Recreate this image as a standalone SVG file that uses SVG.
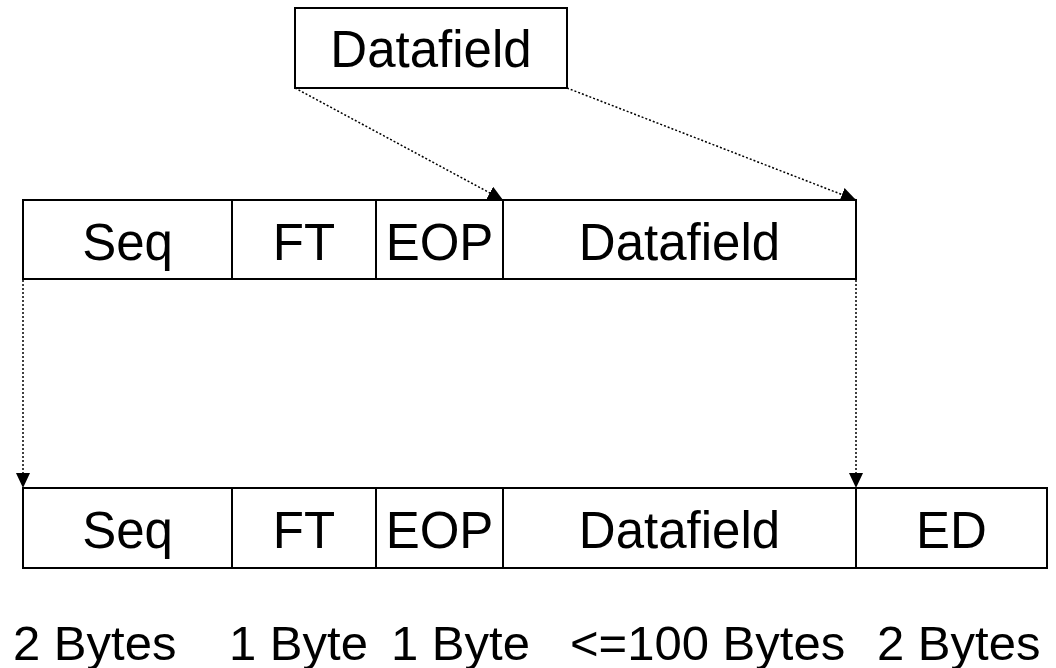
<svg xmlns="http://www.w3.org/2000/svg" width="1056" height="668" viewBox="0 0 1056 668">
<style>
.box{fill:#fff;stroke:#000;stroke-width:2}
.div{stroke:#000;stroke-width:2}
.t{font-family:"Liberation Sans",Arial,sans-serif;font-size:51px;fill:#000;text-anchor:middle}
.b{font-family:"Liberation Sans",Arial,sans-serif;font-size:49px;fill:#000}
.c{fill:none;stroke:#000;stroke-width:1.5;stroke-dasharray:2 2}
</style>
<defs>
<marker id="arr" markerUnits="userSpaceOnUse" markerWidth="16" markerHeight="14" refX="15" refY="7" orient="auto">
<path d="M0,0 L15,7 L0,14 z" fill="#000"/>
</marker>
</defs>
<rect width="1056" height="668" fill="#fff"/>
<g id="connectors">
<line class="c" x1="295" y1="88" x2="503" y2="200" marker-end="url(#arr)"/>
<line class="c" x1="567" y1="88" x2="856" y2="200" marker-end="url(#arr)"/>
<line class="c" x1="23" y1="280" x2="23" y2="488" marker-end="url(#arr)"/>
<line class="c" x1="856" y1="280" x2="856" y2="488" marker-end="url(#arr)"/>
</g>
<g id="top-datafield">
<rect class="box" x="295" y="8" width="272" height="80"/>
<text class="t" x="431" y="67">Datafield</text>
</g>
<g id="row1">
<rect class="box" x="23" y="200" width="833" height="79"/>
<line class="div" x1="232" y1="200" x2="232" y2="279"/>
<line class="div" x1="376" y1="200" x2="376" y2="279"/>
<line class="div" x1="503" y1="200" x2="503" y2="279"/>
<text class="t" x="127.5" y="260">Seq</text>
<text class="t" x="304" y="260">FT</text>
<text class="t" x="439.5" y="260">EOP</text>
<text class="t" x="679.5" y="260">Datafield</text>
</g>
<g id="row2">
<rect class="box" x="23" y="488" width="1024" height="80"/>
<line class="div" x1="232" y1="488" x2="232" y2="568"/>
<line class="div" x1="376" y1="488" x2="376" y2="568"/>
<line class="div" x1="503" y1="488" x2="503" y2="568"/>
<line class="div" x1="856" y1="488" x2="856" y2="568"/>
<text class="t" x="127.5" y="548">Seq</text>
<text class="t" x="304" y="548">FT</text>
<text class="t" x="439.5" y="548">EOP</text>
<text class="t" x="679.5" y="548">Datafield</text>
<text class="t" x="951.5" y="548">ED</text>
</g>
<g id="sizes">
<text class="b" x="13" y="660">2 Bytes</text>
<text class="b" x="229" y="660">1 Byte</text>
<text class="b" x="391" y="660">1 Byte</text>
<text class="b" x="570" y="660">&lt;=100 Bytes</text>
<text class="b" x="877" y="660">2 Bytes</text>
</g>
</svg>
